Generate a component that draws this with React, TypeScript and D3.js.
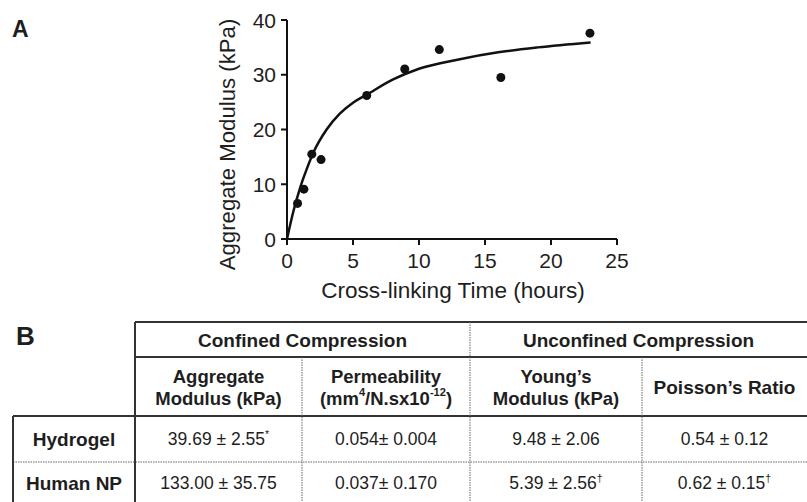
import * as d3 from "d3";
import React from "react";

// panel A: measured points
const crossTime = [0.8, 1.28, 1.88, 2.58, 6.04, 8.92, 11.54, 16.2, 22.95];
const aggModulus = [6.5, 9.1, 15.5, 14.5, 26.2, 31.05, 34.6, 29.5, 37.6];

// fitted curve
const fitTime = [0, 0.5, 1, 1.5, 2, 3, 4, 5, 6, 8, 10, 13, 16, 19, 23];
const fitModulus = [0, 5.2, 9.4, 12.8, 15.8, 20.0, 22.9, 24.9, 26.3, 29.1, 31.1, 32.8, 34.1, 35.0, 35.9];

const xTicks = [0, 5, 10, 15, 20, 25];
const yTicks = [0, 10, 20, 30, 40];

// panel B: table ("^" marks superscript parts)
const groupHeaders = ["Confined Compression", "Unconfined Compression"];
const columnHeaders = [
  ["Aggregate", "Modulus (kPa)"],
  ["Permeability", "(mm^4^/N.sx10^-12^)"],
  ["Young’s", "Modulus (kPa)"],
  ["Poisson’s Ratio"],
];
const rowLabels = ["Hydrogel", "Human NP"];
const hydrogelValues = ["39.69 ± 2.55^*^", "0.054± 0.004", "9.48 ± 2.06", "0.54 ± 0.12"];
const humanNpValues = ["133.00 ± 35.75", "0.037± 0.170", "5.39 ± 2.56^†^", "0.62 ± 0.15^†^"];

const FONT = "'Liberation Sans', Arial, Helvetica, sans-serif";
const INK = "#1e1e1e";

function Rich({ text, x, y, size, weight = "normal" }: any) {
  const parts = text.split("^");
  return (
    <text x={x} y={y} textAnchor="middle" dominantBaseline="central" fontSize={size} fontWeight={weight} fill={INK}>
      {parts.map((p: string, i: number) =>
        i % 2 === 1 ? (
          <tspan key={i} fontSize={size * 0.6} dy={-size * 0.28}>{p}</tspan>
        ) : (
          <tspan key={i} dy={i > 0 ? size * 0.28 : 0}>{p}</tspan>
        )
      )}
    </text>
  );
}

export default function App() {
  const x = d3.scaleLinear().domain([0, 25]).range([287, 617]);
  const y = d3.scaleLinear().domain([0, 40]).range([239, 20]);

  const fit = d3
    .line<number>()
    .x((d) => x(d))
    .y((_, i) => y(fitModulus[i]))
    .curve(d3.curveMonotoneX);

  // table grid
  const colX = [13, 135, 302, 470, 642, 812];
  const rowY = [322, 357, 416, 462, 512];
  const colCenter = (i: number) => (colX[i + 1] + colX[i + 2]) / 2;
  const solid = { stroke: "#333", strokeWidth: 2 };
  const dotted = { stroke: "#666", strokeWidth: 1, strokeDasharray: "1.5,1" };
  const valueRows = [hydrogelValues, humanNpValues];
  const rowMid = [(rowY[2] + rowY[3]) / 2, (rowY[3] + 502) / 2 + 1];

  return (
    <svg width={807} height={502} style={{ position: "absolute", left: 0, top: 0, background: "#fff" }} fontFamily={FONT}>
      <rect width={807} height={502} fill="#fff" />
      <text x={12} y={37} fontSize={23} fontWeight="bold" fill={INK}>A</text>

      {/* y axis */}
      <line x1={x(0)} x2={x(0)} y1={y(0)} y2={y(40)} stroke="#111" strokeWidth={2} />
      {yTicks.map((t) => (
        <g key={t}>
          <line x1={x(0) - 6} x2={x(0)} y1={y(t)} y2={y(t)} stroke="#111" strokeWidth={2} />
          <text x={x(0) - 11} y={y(t)} textAnchor="end" dominantBaseline="central" fontSize={21} fill={INK}>{t}</text>
        </g>
      ))}
      {/* x axis */}
      <line x1={x(0)} x2={x(25)} y1={y(0)} y2={y(0)} stroke="#111" strokeWidth={2} />
      {xTicks.map((t) => (
        <g key={t}>
          <line x1={x(t)} x2={x(t)} y1={y(0)} y2={y(0) + 6} stroke="#111" strokeWidth={2} />
          <text x={x(t)} y={y(0) + 21} textAnchor="middle" dominantBaseline="central" fontSize={21} fill={INK}>{t}</text>
        </g>
      ))}
      <text x={(x(0) + x(25)) / 2 + 1} y={290} textAnchor="middle" dominantBaseline="central" fontSize={22.6} fill={INK}>
        Cross-linking Time (hours)
      </text>
      <text
        transform={`translate(227,${(y(0) + y(40)) / 2 + 15}) rotate(-90)`}
        textAnchor="middle"
        dominantBaseline="central"
        fontSize={22.2}
        fill={INK}
      >
        Aggregate Modulus (kPa)
      </text>

      <path d={fit(fitTime) ?? ""} fill="none" stroke="#111" strokeWidth={2.5} />
      {crossTime.map((t, i) => (
        <circle key={i} cx={x(t)} cy={y(aggModulus[i])} r={4.5} fill="#111" />
      ))}

      {/* panel B */}
      <text x={16} y={345} fontSize={26} fontWeight="bold" fill={INK}>B</text>

      <line x1={colX[1]} x2={colX[5]} y1={rowY[0]} y2={rowY[0]} {...solid} />
      <line x1={colX[1]} x2={colX[5]} y1={rowY[1]} y2={rowY[1]} {...solid} />
      <line x1={colX[0]} x2={colX[5]} y1={rowY[2]} y2={rowY[2]} {...solid} />
      <line x1={colX[0]} x2={colX[5]} y1={rowY[3]} y2={rowY[3]} {...dotted} />
      <line x1={colX[1]} x2={colX[1]} y1={rowY[0]} y2={rowY[4]} {...solid} />
      <line x1={colX[0]} x2={colX[0]} y1={rowY[2]} y2={rowY[4]} {...solid} />
      <line x1={colX[2]} x2={colX[2]} y1={rowY[1]} y2={rowY[4]} {...dotted} />
      <line x1={colX[3]} x2={colX[3]} y1={rowY[0]} y2={rowY[4]} {...dotted} />
      <line x1={colX[4]} x2={colX[4]} y1={rowY[1]} y2={rowY[4]} {...dotted} />

      {groupHeaders.map((g, i) => (
        <Rich
          key={g}
          text={g}
          x={i === 0 ? (colX[1] + colX[3]) / 2 : (colX[3] + 807) / 2}
          y={(rowY[0] + rowY[1]) / 2}
          size={19}
          weight="bold"
        />
      ))}
      {columnHeaders.map((lines, i) =>
        lines.map((l, j) => (
          <Rich
            key={i + "-" + j}
            text={l}
            x={i === 3 ? (colX[4] + 807) / 2 : colCenter(i)}
            y={(rowY[1] + rowY[2]) / 2 + (lines.length === 1 ? 0 : (j - 0.5) * 22)}
            size={lines.length === 1 ? 19 : 18.5}
            weight="bold"
          />
        ))
      )}
      {rowLabels.map((r, ri) => (
        <g key={r}>
          <Rich text={r} x={(colX[0] + colX[1]) / 2} y={rowMid[ri]} size={19} weight="bold" />
          {valueRows[ri].map((v, ci) => (
            <Rich key={ci} text={v} x={ci === 3 ? (colX[4] + 807) / 2 : colCenter(ci)} y={rowMid[ri]} size={17.5} />
          ))}
        </g>
      ))}
    </svg>
  );
}
